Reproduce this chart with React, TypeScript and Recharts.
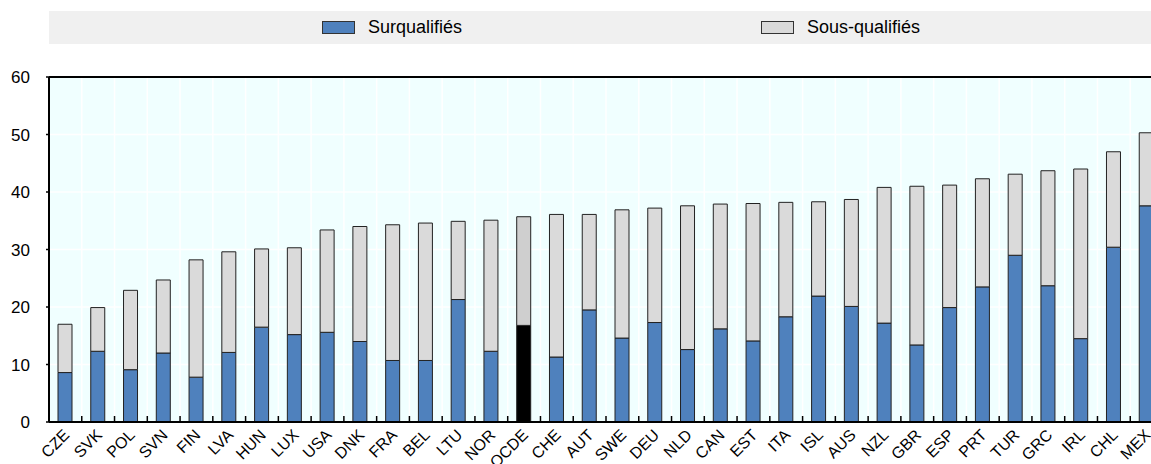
import React from 'react';
import { BarChart, Bar, XAxis, YAxis, CartesianGrid, ReferenceLine, Cell } from 'recharts';

const categories = ['CZE','SVK','POL','SVN','FIN','LVA','HUN','LUX','USA','DNK','FRA','BEL','LTU','NOR','OCDE','CHE','AUT','SWE','DEU','NLD','CAN','EST','ITA','ISL','AUS','NZL','GBR','ESP','PRT','TUR','GRC','IRL','CHL','MEX'];
const surqualifies = [8.6,12.3,9.1,12.0,7.8,12.1,16.5,15.2,15.6,14.0,10.7,10.7,21.3,12.3,16.8,11.3,19.5,14.6,17.3,12.6,16.2,14.1,18.3,21.9,20.1,17.2,13.4,19.9,23.5,29.0,23.7,14.5,30.4,37.6];
const sousQualifies = [8.4,7.6,13.8,12.7,20.4,17.5,13.6,15.1,17.8,20.0,23.6,23.9,13.6,22.8,18.9,24.8,16.6,22.3,19.9,25.0,21.7,23.9,19.9,16.4,18.6,23.6,27.6,21.3,18.8,14.1,20.0,29.5,16.6,12.7];
const yTicks = [0,10,20,30,40,50,60];
const highlight = 'OCDE';

const data = categories.map((c, i) => ({ cat: c, surq: surqualifies[i], sous: sousQualifies[i] }));

const FONT = '"Liberation Sans", Arial, sans-serif';
const CHART_W = 1175;
const CHART_H = 464;
const MARGIN = { top: 77, right: 12, left: 0, bottom: 0 };
const YAXIS_W = 49;
const XAXIS_H = 42;
const PLOT_BOTTOM = CHART_H - MARGIN.bottom - XAXIS_H;
const PLOT_W = CHART_W - MARGIN.left - MARGIN.right - YAXIS_W;
const BW = PLOT_W / categories.length;

const XTick = (props: any) => {
  const { x, payload } = props;
  const bx = x - BW / 2;
  const tx = x + 5;
  const ty = PLOT_BOTTOM + 14;
  return (
    <g>
      <line x1={bx} x2={bx} y1={PLOT_BOTTOM} y2={PLOT_BOTTOM - 6} stroke="#000" strokeWidth={1.5} />
      <text x={tx} y={ty} textAnchor="end" transform={`rotate(-45, ${tx}, ${ty})`} fontSize={16} fontFamily={FONT} fill="#000">
        {payload.value}
      </text>
    </g>
  );
};

const LegendItem = ({ color, label, left }: { color: string; label: string; left: number }) => (
  <div style={{ position: 'absolute', left, top: 0, height: 33, display: 'flex', alignItems: 'center' }}>
    <div style={{ width: 31, height: 11, background: color, border: '1px solid #333' }} />
    <span style={{ marginLeft: 13, fontSize: 18, fontFamily: FONT, color: '#000' }}>{label}</span>
  </div>
);

export default function App() {
  return (
    <div style={{ position: 'absolute', left: 0, top: 0, width: 1151, height: 464, overflow: 'hidden', background: '#fff' }}>
      <div style={{ position: 'absolute', left: 49, top: 11, width: 1114, height: 33, background: '#F0F0F0' }}>
        <LegendItem color="#4F81BD" label="Surqualifiés" left={273} />
        <LegendItem color="#DADADA" label="Sous-qualifiés" left={712} />
      </div>
      <div style={{ position: 'absolute', left: 0, top: 0 }}>
        <BarChart width={CHART_W} height={CHART_H} data={data} margin={MARGIN} barSize={14}>
          <CartesianGrid
            fill="#F0FFFF"
            stroke="#FFFFFF"
            strokeWidth={1.5}
            verticalCoordinatesGenerator={({ offset }: any) =>
              Array.from({ length: categories.length + 1 }, (_, i) => offset.left + i * BW)
            }
          />
          <YAxis
            width={YAXIS_W}
            domain={[0, 60]}
            ticks={yTicks}
            interval={0}
            tickSize={3}
            tickMargin={16}
            axisLine={{ stroke: '#000', strokeWidth: 2 }}
            tickLine={{ stroke: '#000', strokeWidth: 1.5 }}
            tick={{ fontSize: 17, fontFamily: FONT, fill: '#000' }}
          />
          <XAxis
            dataKey="cat"
            interval={0}
            height={XAXIS_H}
            tickLine={false}
            axisLine={{ stroke: '#000', strokeWidth: 2 }}
            tick={<XTick />}
          />
          <ReferenceLine y={60} stroke="#000" strokeWidth={2} />
          <Bar dataKey="surq" name="Surqualifiés" stackId="a" fill="#4F81BD" stroke="#222" strokeWidth={1} isAnimationActive={false}>
            {data.map((d) => (
              <Cell key={d.cat} fill={d.cat === highlight ? '#000000' : '#4F81BD'} />
            ))}
          </Bar>
          <Bar dataKey="sous" name="Sous-qualifiés" stackId="a" fill="#DADADA" stroke="#222" strokeWidth={1} isAnimationActive={false}>
            {data.map((d) => (
              <Cell key={d.cat} fill={d.cat === highlight ? '#CFCFCF' : '#DADADA'} />
            ))}
          </Bar>
        </BarChart>
      </div>
    </div>
  );
}
